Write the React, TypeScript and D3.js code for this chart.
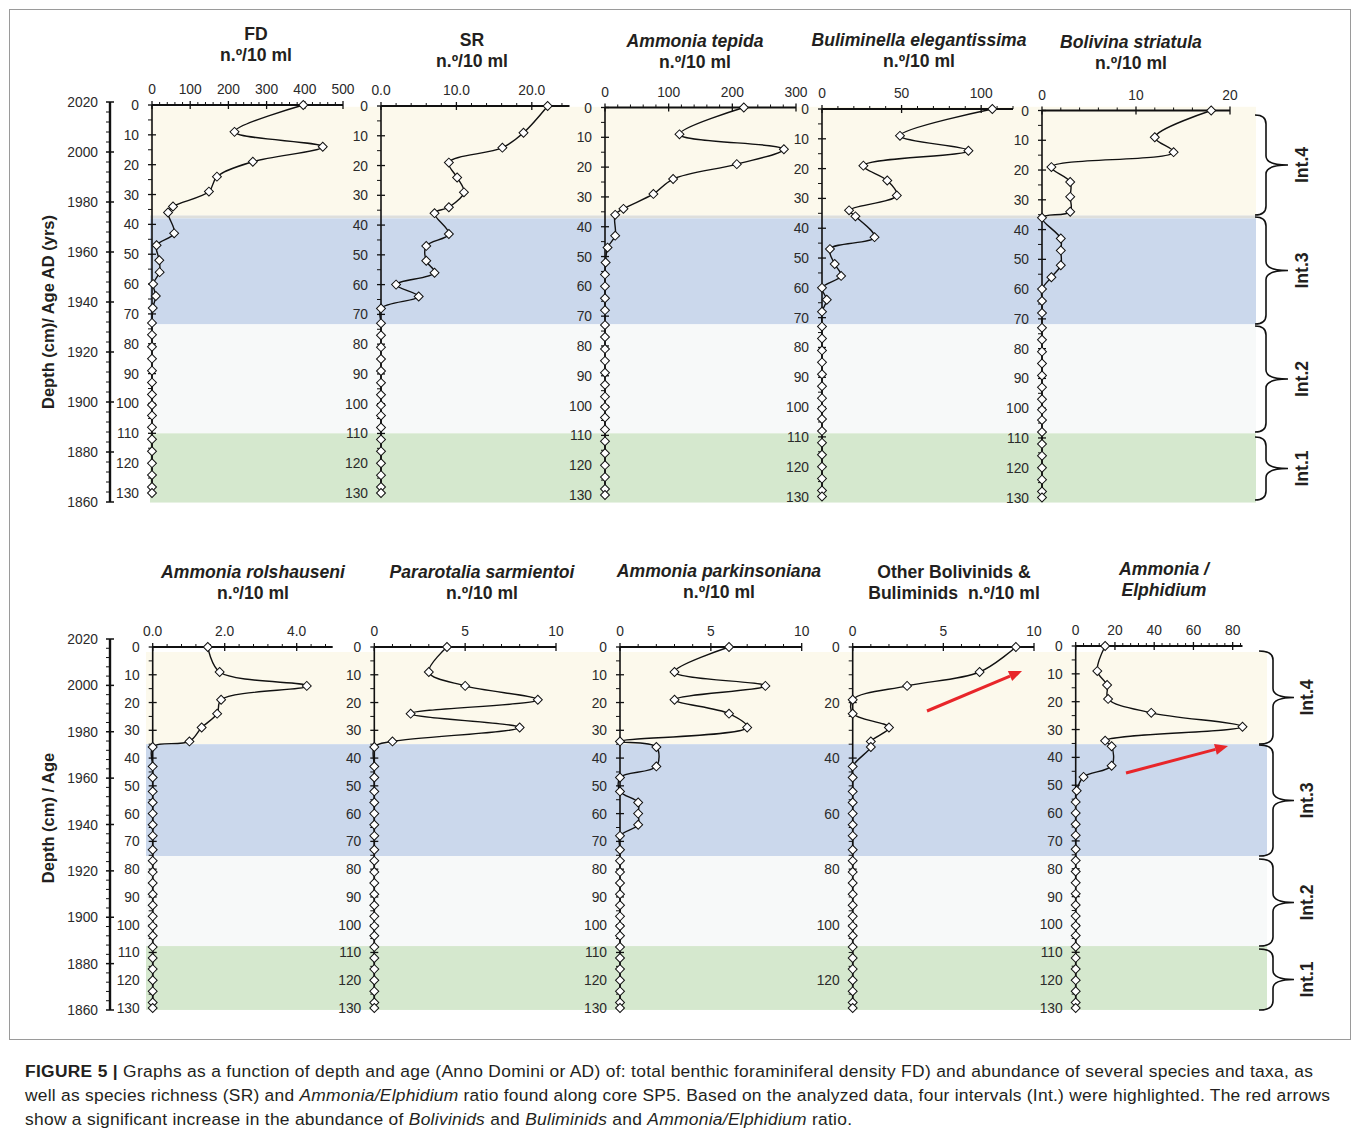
import React from "react";
import * as d3 from "d3";

const W = 1360;
const H = 1138;
const FONT = "'Liberation Sans', Arial, Helvetica, sans-serif";

// sample depths (cm) in core SP5
const depths = [0, 9, 14, 19, 24, 29, 34, 36, 43, 47, 52, 56, 60, 64, 68, 73, 77, 81, 85, 89, 93, 97, 100.5, 104, 108, 112, 116, 120, 124, 128, 130];

// series, n./10 ml
const fd = [396, 216, 447, 264, 170, 149, 55, 42, 58, 12, 19, 20, 3, 10, 2, 0, 0, 0, 0, 0, 0, 0, 0, 0, 0, 0, 0, 0, 0, 0, 0];
const sr = [22.1, 18.9, 16.1, 9, 10.1, 11, 9, 7.1, 9, 6, 6, 7.1, 2, 5, 0, 0, 0, 0, 0, 0, 0, 0, 0, 0, 0, 0, 0, 0, 0, 0, 0];
const ammTepida = [218, 117, 281, 207, 107, 76, 29, 16, 16, 4, 1, 0, 0, 0, 0, 0, 0, 0, 0, 0, 0, 0, 0, 0, 0, 0, 0, 0, 0, 0, 0];
const bulElegant = [107, 49, 92, 26, 41, 47, 17, 21, 33, 5, 8, 12, 0, 3, 0, 0, 0, 0, 0, 0, 0, 0, 0, 0, 0, 0, 0, 0, 0, 0, 0];
const bolStriatula = [18, 12, 14, 1, 3, 3, 3, 0, 2, 2, 2, 1, 0, 0, 0, 0, 0, 0, 0, 0, 0, 0, 0, 0, 0, 0, 0, 0, 0, 0, 0];
const ammRolsh = [1.53, 1.86, 4.28, 1.9, 1.79, 1.36, 1.02, 0, 0, 0, 0, 0, 0, 0, 0, 0, 0, 0, 0, 0, 0, 0, 0, 0, 0, 0, 0, 0, 0, 0, 0];
const parSarm = [4, 3, 5, 9, 2, 8, 1, 0, 0, 0, 0, 0, 0, 0, 0, 0, 0, 0, 0, 0, 0, 0, 0, 0, 0, 0, 0, 0, 0, 0, 0];
const ammPark = [6, 3, 8, 3, 6, 7, 0, 2, 2, 0, 0, 1, 1, 1, 0, 0, 0, 0, 0, 0, 0, 0, 0, 0, 0, 0, 0, 0, 0, 0, 0];
const otherBol = [9, 7, 3, 0, 0, 2, 1, 1, 0, 0, 0, 0, 0, 0, 0, 0, 0, 0, 0, 0, 0, 0, 0, 0, 0, 0, 0, 0, 0, 0, 0];
const ammElph = [15, 11, 16, 16.5, 38.5, 85, 15, 18.3, 18.3, 4, 0.5, 0, 0, 0, 0, 0, 0, 0, 0, 0, 0, 0, 0, 0, 0, 0, 0, 0, 0, 0, 0];

// age axis (years AD)
const ageTicks = [2020, 2000, 1980, 1960, 1940, 1920, 1900, 1880, 1860];

// intervals (depth cm) per row
const intervalsTop = [
  { name: "Int.4", d0: 0.6, d1: 37, color: "#fcf9ec" },
  { name: "", d0: 37, d1: 38, color: "#dedfdc" },
  { name: "Int.3", d0: 38, d1: 73.5, color: "#cbd8ec" },
  { name: "Int.2", d0: 73.5, d1: 110, color: "#f7f9f9" },
  { name: "Int.1", d0: 110, d1: 133.2, color: "#d5e8ce" },
];
const intervalsBottom = [
  { name: "Int.4", d0: 1.8, d1: 35, color: "#fcf9ec" },
  { name: "Int.3", d0: 35, d1: 75.3, color: "#cbd8ec" },
  { name: "Int.2", d0: 75.3, d1: 107.7, color: "#f7f9f9" },
  { name: "Int.1", d0: 107.7, d1: 130.7, color: "#d5e8ce" },
];
// brace extents (page y) and labels
const bracesTop = [
  { name: "Int.4", y0: 115, y1: 215 },
  { name: "Int.3", y0: 217, y1: 324 },
  { name: "Int.2", y0: 326, y1: 432 },
  { name: "Int.1", y0: 437, y1: 500 },
];
const bracesBottom = [
  { name: "Int.4", y0: 651, y1: 744 },
  { name: "Int.3", y0: 745, y1: 856 },
  { name: "Int.2", y0: 859, y1: 946 },
  { name: "Int.1", y0: 949, y1: 1010 },
];

type Panel = {
  title: [string, boolean][];
  tx: number;
  ty: number;
  values: number[];
  x0: number;
  x1: number;
  max: number;
  major: number;
  minor: number;
  dec: number;
  y0: number;
  y130: number;
  depthStep: number;
};

const panels: Panel[] = [
  { title: [["FD", false], ["n.º/10 ml", false]], tx: 256, ty: 40, values: fd, x0: 152, x1: 343, max: 500, major: 100, minor: 20, dec: 0, y0: 105, y130: 493, depthStep: 10 },
  { title: [["SR", false], ["n.º/10 ml", false]], tx: 472, ty: 46, values: sr, x0: 381, x1: 569.5, max: 25, major: 10, minor: 2, dec: 1, y0: 106, y130: 493, depthStep: 10 },
  { title: [["Ammonia tepida", true], ["n.º/10 ml", false]], tx: 695, ty: 47, values: ammTepida, x0: 605, x1: 796, max: 300, major: 100, minor: 20, dec: 0, y0: 107.5, y130: 495, depthStep: 10 },
  { title: [["Buliminella elegantissima", true], ["n.º/10 ml", false]], tx: 919, ty: 46, values: bulElegant, x0: 822, x1: 1013, max: 120, major: 50, minor: 10, dec: 0, y0: 109, y130: 496.5, depthStep: 10 },
  { title: [["Bolivina striatula", true], ["n.º/10 ml", false]], tx: 1131, ty: 48, values: bolStriatula, x0: 1042, x1: 1230, max: 20, major: 10, minor: 2, dec: 0, y0: 110.5, y130: 497.5, depthStep: 10 },
  { title: [["Ammonia rolshauseni", true], ["n.º/10 ml", false]], tx: 253, ty: 578, values: ammRolsh, x0: 152.7, x1: 332.7, max: 5, major: 2, minor: 0.4, dec: 1, y0: 647, y130: 1008, depthStep: 10 },
  { title: [["Pararotalia sarmientoi", true], ["n.º/10 ml", false]], tx: 482, ty: 578, values: parSarm, x0: 374.3, x1: 556, max: 10, major: 5, minor: 1, dec: 0, y0: 647, y130: 1008, depthStep: 10 },
  { title: [["Ammonia parkinsoniana", true], ["n.º/10 ml", false]], tx: 719, ty: 577, values: ammPark, x0: 620, x1: 801.7, max: 10, major: 5, minor: 1, dec: 0, y0: 647, y130: 1008, depthStep: 10 },
  { title: [["Other Bolivinids &", false], ["Buliminids\u00a0\u00a0n.º/10 ml", false]], tx: 954, ty: 578, values: otherBol, x0: 852.7, x1: 1034, max: 10, major: 5, minor: 1, dec: 0, y0: 647, y130: 1008, depthStep: 20 },
  { title: [["Ammonia /", true], ["Elphidium", true]], tx: 1164, ty: 575, values: ammElph, x0: 1075.7, x1: 1242.5, max: 85, major: 20, minor: 4, dec: 0, y0: 646, y130: 1008, depthStep: 10 },
];

const arrows = [
  { x1: 927, y1: 711, x2: 1022, y2: 671 },
  { x1: 1126, y1: 773, x2: 1228, y2: 746 },
];

const diamond = d3.symbol(d3.symbolSquare, 40)() as string;

function brace(xL: number, xV: number, xT: number, top: number, bot: number) {
  const mid = (top + bot) / 2;
  const r = Math.min(9, (bot - top) / 5);
  return `M${xL},${top} Q${xV},${top} ${xV},${top + r} L${xV},${mid - r} Q${xV},${mid} ${xT},${mid} Q${xV},${mid} ${xV},${mid + r} L${xV},${bot - r} Q${xV},${bot} ${xL},${bot}`;
}

function PanelView({ p }: { p: Panel }) {
  const x = d3.scaleLinear().domain([0, p.max]).range([p.x0, p.x1]);
  const y = d3.scaleLinear().domain([0, 130]).range([p.y0, p.y130]);
  const majors = d3.range(0, p.max + 1e-9, p.major);
  const minors = d3.range(0, p.max + 1e-9, p.minor).filter((v) => Math.abs(v / p.major - Math.round(v / p.major)) > 1e-6);
  const dMajor = d3.range(0, 131, p.depthStep);
  const dMinor = d3.range(0, 131, 5).filter((v) => v % p.depthStep !== 0);
  const pts = depths.map((d, i) => [p.values[i], d] as [number, number]);
  const line = d3
    .line<[number, number]>()
    .x((d) => x(d[0]))
    .y((d) => y(d[1]))
    .curve(d3.curveCatmullRom.alpha(0.5));
  return (
    <g>
      {p.title.map(([t, it], i) => (
        <text key={i} x={p.tx} y={p.ty + i * 21} textAnchor="middle" fontSize={17.6} fontWeight="bold" fontStyle={it ? "italic" : "normal"} fill="#231f20">
          {t}
        </text>
      ))}
      {/* value axis on top */}
      <line x1={x(0)} x2={x(p.max)} y1={y(0)} y2={y(0)} stroke="#111" strokeWidth={1.8} />
      {majors.map((v) => (
        <g key={"M" + v}>
          <line x1={x(v)} x2={x(v)} y1={y(0) - 4} y2={y(0) + 4} stroke="#111" strokeWidth={1.3} />
          <text x={x(v)} y={y(0) - 11} textAnchor="middle" fontSize={13.8} fill="#2a2a2a">
            {v.toFixed(p.dec)}
          </text>
        </g>
      ))}
      {minors.map((v) => (
        <line key={"m" + v} x1={x(v)} x2={x(v)} y1={y(0) - 3} y2={y(0)} stroke="#111" strokeWidth={1} />
      ))}
      {/* depth axis */}
      <line x1={x(0)} x2={x(0)} y1={y(0)} y2={y(130)} stroke="#111" strokeWidth={1.6} />
      {dMajor.map((d) => (
        <g key={"D" + d}>
          <line x1={x(0) - 4} x2={x(0) + 4} y1={y(d)} y2={y(d)} stroke="#111" strokeWidth={1.3} />
          <text x={x(0) - 13} y={y(d) + 5} textAnchor="end" fontSize={13.8} fill="#2a2a2a">
            {d}
          </text>
        </g>
      ))}
      {dMinor.map((d) => (
        <line key={"d" + d} x1={x(0) - 4} x2={x(0)} y1={y(d)} y2={y(d)} stroke="#111" strokeWidth={1} />
      ))}
      <path d={line(pts) ?? ""} fill="none" stroke="#111" strokeWidth={1.4} />
      {pts.map((d, i) => (
        <path key={i} d={diamond} transform={`translate(${x(d[0])},${y(d[1])}) rotate(45)`} fill="#fff" stroke="#111" strokeWidth={1} />
      ))}
    </g>
  );
}

function AgeAxis({ y2020, y1860, title, titleY }: { y2020: number; y1860: number; title: string; titleY: number }) {
  const y = d3.scaleLinear().domain([2020, 1860]).range([y2020, y1860]);
  const ax = 110;
  const minors = d3.range(1860, 2021, 4).filter((v) => v % 20 !== 0);
  return (
    <g>
      <line x1={ax} x2={ax} y1={y(2020)} y2={y(1860)} stroke="#111" strokeWidth={2.4} />
      {ageTicks.map((a) => (
        <g key={a}>
          <line x1={ax - 4} x2={ax + 4} y1={y(a)} y2={y(a)} stroke="#111" strokeWidth={1.5} />
          <text x={ax - 12} y={y(a) + 5} textAnchor="end" fontSize={13.8} fill="#2a2a2a">
            {a}
          </text>
        </g>
      ))}
      {minors.map((a) => (
        <line key={"m" + a} x1={ax - 4} x2={ax} y1={y(a)} y2={y(a)} stroke="#111" strokeWidth={1} />
      ))}
      <text transform={`translate(54,${titleY}) rotate(-90)`} textAnchor="middle" fontSize={16.5} fontWeight="bold" fill="#231f20">
        {title}
      </text>
    </g>
  );
}

function Bands({ bands, y0, y130, xa, xb }: { bands: typeof intervalsTop; y0: number; y130: number; xa: number; xb: number }) {
  const y = d3.scaleLinear().domain([0, 130]).range([y0, y130]);
  return (
    <g>
      {bands.map((b, i) => (
        <rect key={i} x={xa} y={y(b.d0)} width={xb - xa} height={y(b.d1) - y(b.d0)} fill={b.color} />
      ))}
    </g>
  );
}

function Braces({ items, xL, xV, xT, tx }: { items: typeof bracesTop; xL: number; xV: number; xT: number; tx: number }) {
  return (
    <g>
      {items.map((b) => (
        <g key={b.name}>
          <path d={brace(xL, xV, xT, b.y0, b.y1)} fill="none" stroke="#111" strokeWidth={1.6} />
          <text transform={`translate(${tx},${(b.y0 + b.y1) / 2}) rotate(-90)`} textAnchor="middle" fontSize={17.6} fontWeight="bold" fill="#231f20">
            {b.name}
          </text>
        </g>
      ))}
    </g>
  );
}

function Arrow({ a }: { a: (typeof arrows)[number] }) {
  const ang = Math.atan2(a.y2 - a.y1, a.x2 - a.x1);
  const hl = 13;
  const hw = 5.5;
  const bx = a.x2 - hl * Math.cos(ang);
  const by = a.y2 - hl * Math.sin(ang);
  const px = -Math.sin(ang) * hw;
  const py = Math.cos(ang) * hw;
  return (
    <g>
      <line x1={a.x1} y1={a.y1} x2={bx} y2={by} stroke="#e8262a" strokeWidth={3} />
      <polygon points={`${a.x2},${a.y2} ${bx + px},${by + py} ${bx - px},${by - py}`} fill="#e8262a" />
    </g>
  );
}

export default function App() {
  return (
    <svg width={W} height={H} style={{ display: "block", position: "absolute", left: 0, top: 0 }} fontFamily={FONT}>
      <rect x={0} y={0} width={W} height={H} fill="#fff" />
      <rect x={9.5} y={9.5} width={1341} height={1030} fill="none" stroke="#9a9a9a" strokeWidth={1} />
      <Bands bands={intervalsTop} y0={105} y130={493} xa={150} xb={1256} />
      <Bands bands={intervalsBottom} y0={647} y130={1008} xa={146} xb={1267} />
      <AgeAxis y2020={102} y1860={502} title="Depth (cm)/ Age AD (yrs)" titleY={312} />
      <AgeAxis y2020={639} y1860={1010} title="Depth (cm) / Age" titleY={818} />
      {panels.map((p, i) => (
        <PanelView key={i} p={p} />
      ))}
      <Braces items={bracesTop} xL={1255} xV={1266} xT={1288} tx={1308} />
      <Braces items={bracesBottom} xL={1259} xV={1273} xT={1294} tx={1313} />
      {arrows.map((a, i) => (
        <Arrow key={i} a={a} />
      ))}
      <g fontSize={17.4} fill="#231f20">
        <text x={25} y={1077} textLength={1288} lengthAdjust="spacing">
          <tspan fontWeight="bold">FIGURE 5 | </tspan>
          <tspan>Graphs as a function of depth and age (Anno Domini or AD) of: total benthic foraminiferal density FD) and abundance of several species and taxa, as</tspan>
        </text>
        <text x={25} y={1101} textLength={1305} lengthAdjust="spacing">
          <tspan>well as species richness (SR) and </tspan>
          <tspan fontStyle="italic">Ammonia/Elphidium</tspan>
          <tspan> ratio found along core SP5. Based on the analyzed data, four intervals (Int.) were highlighted. The red arrows</tspan>
        </text>
        <text x={25} y={1125} textLength={827} lengthAdjust="spacing">
          <tspan>show a significant increase in the abundance of </tspan>
          <tspan fontStyle="italic">Bolivinids</tspan>
          <tspan> and </tspan>
          <tspan fontStyle="italic">Buliminids</tspan>
          <tspan> and </tspan>
          <tspan fontStyle="italic">Ammonia/Elphidium</tspan>
          <tspan> ratio.</tspan>
        </text>
      </g>
    </svg>
  );
}
